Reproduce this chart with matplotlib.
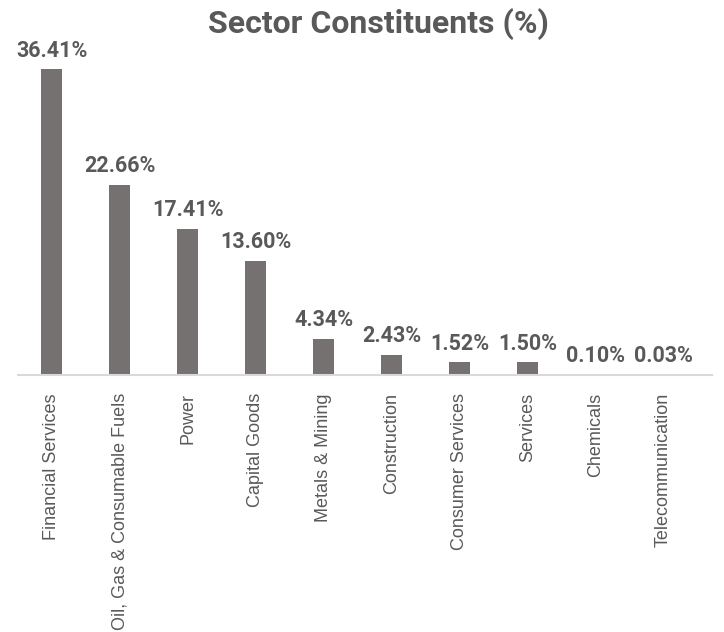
import numpy as np
import matplotlib.pyplot as plt

sectors = ["Financial Services", "Oil, Gas & Consumable Fuels", "Power", "Capital Goods",
           "Metals & Mining", "Construction", "Consumer Services", "Services",
           "Chemicals", "Telecommunication"]
weights = [36.41, 22.66, 17.41, 13.60, 4.34, 2.43, 1.52, 1.50, 0.10, 0.03]

text_col = "#595959"
bar_col = "#767171"

fig = plt.figure(figsize=(7.24, 6.32), dpi=100)
ax = fig.add_axes([18 / 724, 1 - 375 / 632, (712 - 18) / 724, 336 / 632])

x = np.arange(len(sectors))
bars = ax.bar(x, weights, width=21 / 68, color=bar_col, zorder=2)

for xi, w in zip(x, weights):
    ax.annotate(f"{w:.2f}%", (xi, w), xytext=(0, 5.5), textcoords="offset points",
                ha="center", va="bottom", fontsize=15.5, fontweight="bold",
                family="Roboto", color=text_col, annotation_clip=False)

ax.set_xlim(-0.5, 9.72)
ax.set_ylim(0, 40)
ax.set_xticks(x)
ax.set_xticklabels(sectors, rotation=90, fontsize=13, family="Liberation Sans",
                   color=text_col, va="top")
ax.tick_params(axis="x", length=0, pad=13)
ax.set_yticks([])
for s in ["top", "right", "left"]:
    ax.spines[s].set_visible(False)
ax.spines["bottom"].set_color("#D9D9D9")
ax.spines["bottom"].set_linewidth(1.5)

fig.text(378 / 724, 1 - 24 / 632, "Sector Constituents (%)", ha="center", va="center",
         fontsize=23, fontweight="bold", family="Roboto", color=text_col)

fig.savefig("out.png", dpi=100)
